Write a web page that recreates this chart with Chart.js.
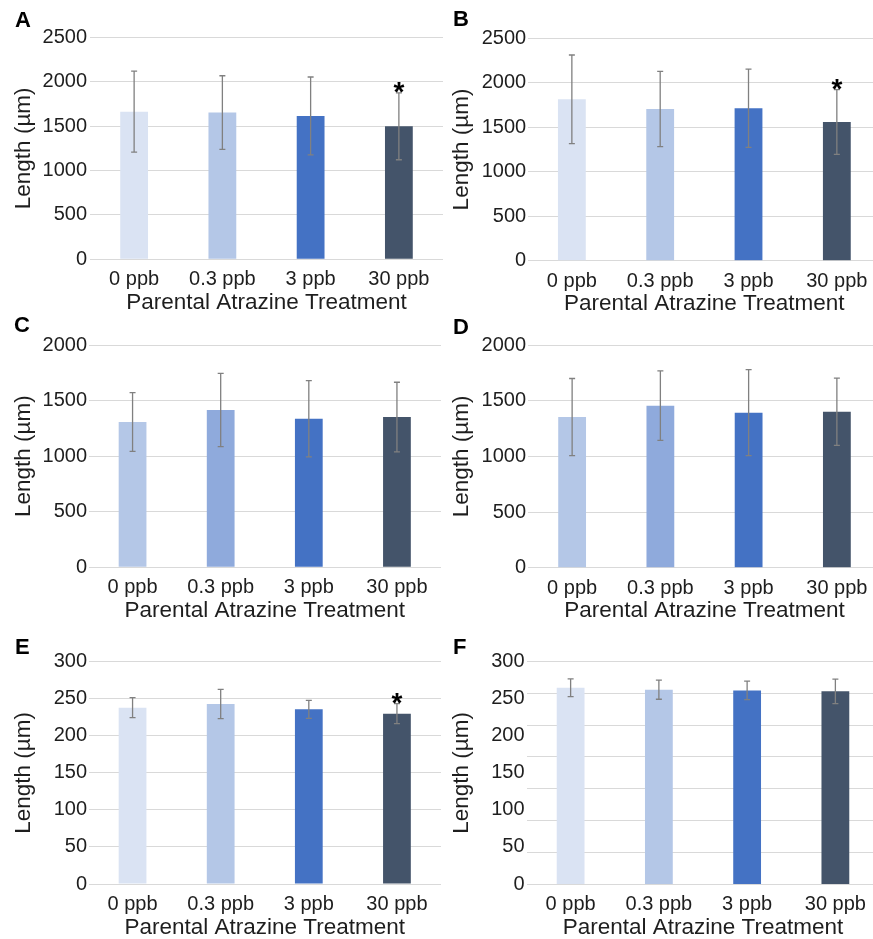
<!DOCTYPE html>
<html>
<head>
<meta charset="utf-8">
<script src="https://cdn.jsdelivr.net/npm/chart.js@4.4.1/dist/chart.umd.min.js"></script>
<style>
  html, body { margin: 0; padding: 0; background: #ffffff; }
  #fig { position: relative; width: 873px; height: 939px; overflow: hidden; background: #ffffff; }
  #fig canvas { position: absolute; }
  .lbl { position: absolute; font: bold 22px "Liberation Sans", Arial, sans-serif; line-height: 22px; color: #000; }
</style>
</head>
<body>
<div id="fig"></div>
<script>
// ---------------- data ----------------
const categories = ['0 ppb', '0.3 ppb', '3 ppb', '30 ppb'];
const xTitle = 'Parental Atrazine Treatment';
const yTitle = 'Length (µm)';
const panelLetters = ['A', 'B', 'C', 'D', 'E', 'F'];

const meansA = [1663, 1652, 1614, 1498];
const errA   = [455, 415, 439, 377];
const sigA   = [false, false, false, true];

const meansB = [1814, 1705, 1713, 1559];
const errB   = [498, 423, 440, 364];
const sigB   = [false, false, false, true];

const meansC = [1307, 1415, 1337, 1352];
const errC   = [264, 330, 343, 313];
const sigC   = [false, false, false, false];

const meansD = [1353, 1455, 1392, 1401];
const errD   = [346, 312, 386, 302];
const sigD   = [false, false, false, false];

const meansE = [237.9, 242.9, 235.7, 229.8];
const errE   = [13.5, 19.8, 12.2, 13.5];
const sigE   = [false, false, false, true];

const meansF = [264.9, 262.2, 261.3, 260.0];
const errF   = [11.9, 12.9, 12.6, 16.5];
const sigF   = [false, false, false, false];

// y-axis tick ranges (max, step)
const yMaxAB = 2500, yStepAB = 500;
const yMaxCD = 2000, yStepCD = 500;
const yMaxEF = 300,  yStepEF = 50;
const gridCountF = 8; // panel F gridlines are drawn at 7 equal divisions

// ---------------- styles / layout ----------------
const paletteLight = ['#dae3f3', '#b4c7e7', '#4472c4', '#44546a'];
const paletteMid   = ['#b4c7e7', '#8faadc', '#4472c4', '#44546a'];
const textColor = '#1e1e1e';
const gridColor = '#d9d9d9';
const errColor  = '#808080';
const FONT = '"Liberation Sans", Arial, sans-serif';

const CW = 450, CH = 330, XAXIS_H = 60;

const panels = [
  { letter: 0, means: meansA, err: errA, sig: sigA, max: yMaxAB, step: yStepAB, pal: paletteLight,
    left: 0,   top: 0,   area: { l: 90,   r: 443, t: 37.3, b: 259.3 }, tickPad: 3,   yTitlePad: 10.4, letterPos: [15, 9.4] },
  { letter: 1, means: meansB, err: errB, sig: sigB, max: yMaxAB, step: yStepAB, pal: paletteLight,
    left: 436, top: 0,   area: { l: 91.7, r: 445, t: 38.3, b: 260.7 }, tickPad: 1.5, yTitlePad: 12.2, letterPos: [17, 8.4] },
  { letter: 2, means: meansC, err: errC, sig: sigC, max: yMaxCD, step: yStepCD, pal: paletteMid,
    left: 0,   top: 320, area: { l: 88.5, r: 441, t: 25,   b: 247.3 }, tickPad: 1.5, yTitlePad: 10.4, letterPos: [14, -5.6] },
  { letter: 3, means: meansD, err: errD, sig: sigD, max: yMaxCD, step: yStepCD, pal: paletteMid,
    left: 436, top: 320, area: { l: 92,   r: 445, t: 25,   b: 247.7 }, tickPad: 2,   yTitlePad: 12.2, letterPos: [17, -3.6] },
  { letter: 4, means: meansE, err: errE, sig: sigE, max: yMaxEF, step: yStepEF, pal: paletteLight,
    left: 0,   top: 630, area: { l: 88.5, r: 441, t: 31.7, b: 254 },   tickPad: 1.5, yTitlePad: 10.4, letterPos: [15, 6.4] },
  { letter: 5, means: meansF, err: errF, sig: sigF, max: yMaxEF, step: yStepEF, pal: paletteLight,
    left: 436, top: 630, area: { l: 90.5, r: 443.5, t: 31.7, b: 254 }, tickPad: 2,   yTitlePad: 12.2, letterPos: [17, 6.4], oddGrid: true },
];

// ---------------- error bar + significance plugin ----------------
const errorBarPlugin = {
  id: 'errorBars',
  afterDatasetsDraw(chart) {
    const ctx = chart.ctx;
    const yScale = chart.scales.y;
    chart.data.datasets.forEach((ds, di) => {
      const meta = chart.getDatasetMeta(di);
      meta.data.forEach((bar, i) => {
        const m = ds.data[i], e = ds.errors[i];
        const yTop = yScale.getPixelForValue(m + e);
        const yBot = yScale.getPixelForValue(m - e);
        const x = bar.x;
        ctx.save();
        ctx.strokeStyle = errColor;
        ctx.lineWidth = 1.3;
        ctx.beginPath();
        ctx.moveTo(x, yTop); ctx.lineTo(x, yBot);
        ctx.moveTo(x - 3, yTop); ctx.lineTo(x + 3, yTop);
        ctx.moveTo(x - 3, yBot); ctx.lineTo(x + 3, yBot);
        ctx.stroke();
        if (ds.sig[i]) {
          ctx.fillStyle = '#000';
          ctx.font = 'bold 28px ' + FONT;
          ctx.textAlign = 'center';
          ctx.textBaseline = 'alphabetic';
          ctx.fillText('*', x, yTop + 8);
        }
        ctx.restore();
      });
    });
  }
};

// ---------------- build ----------------
const fig = document.getElementById('fig');

panels.forEach((p) => {
  const canvas = document.createElement('canvas');
  canvas.width = CW; canvas.height = CH;
  canvas.style.left = p.left + 'px';
  canvas.style.top = p.top + 'px';
  canvas.style.width = CW + 'px';
  canvas.style.height = CH + 'px';
  fig.appendChild(canvas);

  const lbl = document.createElement('div');
  lbl.className = 'lbl';
  lbl.textContent = panelLetters[p.letter];
  lbl.style.left = (p.left + p.letterPos[0]) + 'px';
  lbl.style.top = (p.top + p.letterPos[1]) + 'px';
  fig.appendChild(lbl);

  const a = p.area;
  const scales = {
    x: {
      type: 'category',
      offset: true,
      grid: { display: false },
      border: { display: false },
      ticks: { color: textColor, font: { family: FONT, size: 20 }, padding: 0.5, maxRotation: 0, autoSkip: false },
      title: { display: true, text: xTitle, color: textColor, font: { family: FONT, size: 22.5 }, padding: { top: 3, bottom: 3 } },
      afterFit(scale) { scale.height = XAXIS_H; }
    },
    y: {
      type: 'linear',
      position: 'left',
      min: 0, max: p.max,
      grid: { display: !p.oddGrid, color: gridColor, lineWidth: 1, drawTicks: false },
      border: { display: false },
      ticks: { stepSize: p.step, color: textColor, font: { family: FONT, size: 20 }, padding: p.tickPad,
               callback: (v) => String(v) },
      title: { display: true, text: yTitle, color: textColor, font: { family: FONT, size: 22.5 }, padding: { top: p.yTitlePad, bottom: 0 } },
      afterFit(scale) { scale.width = a.l; }
    }
  };
  if (p.oddGrid) {
    scales.yGrid = {
      type: 'linear',
      position: 'left',
      min: 0, max: p.max,
      grid: { display: true, color: gridColor, lineWidth: 1, drawTicks: false },
      border: { display: false },
      ticks: { display: false, count: gridCountF },
      afterFit(scale) { scale.width = 0; }
    };
  }

  new Chart(canvas, {
    type: 'bar',
    data: {
      labels: categories,
      datasets: [{
        data: p.means,
        errors: p.err,
        sig: p.sig,
        backgroundColor: p.pal,
        borderWidth: 0,
        categoryPercentage: 1,
        barPercentage: 0.315
      }]
    },
    options: {
      responsive: false,
      animation: false,
      devicePixelRatio: 1,
      layout: { padding: { left: 0, top: a.t, right: CW - a.r, bottom: CH - a.b - XAXIS_H } },
      plugins: { legend: { display: false }, tooltip: { enabled: false } },
      scales
    },
    plugins: [errorBarPlugin]
  });
});
</script>
</body>
</html>
